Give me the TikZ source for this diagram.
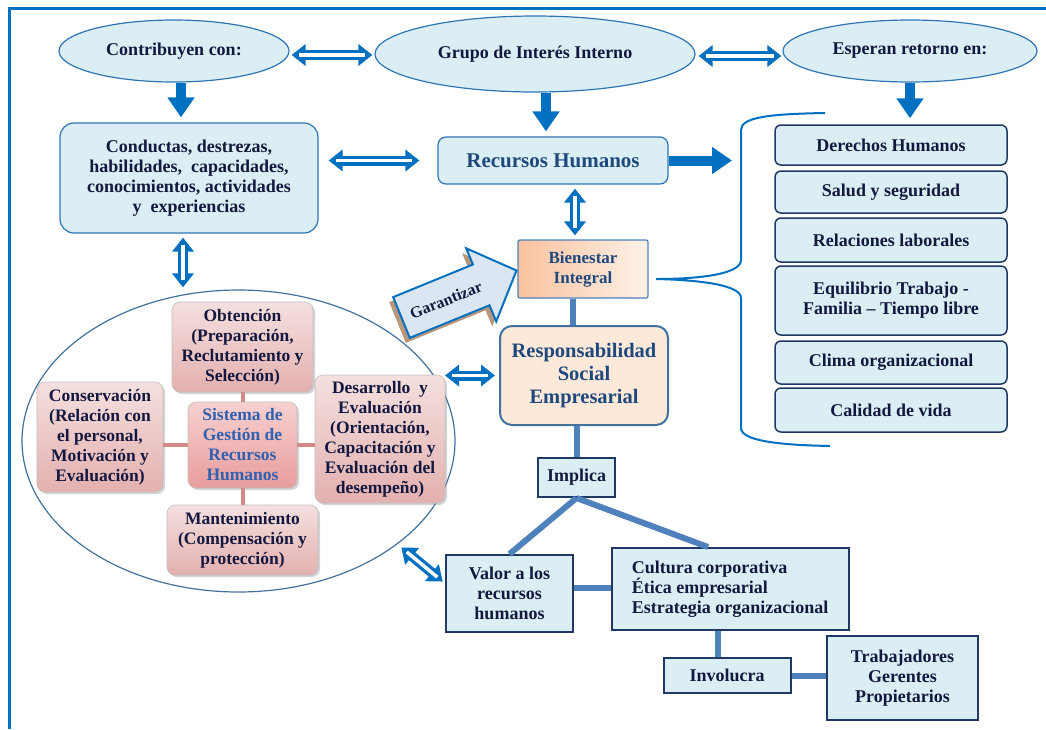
\documentclass[tikz,border=0pt]{standalone}
\usepackage{fontspec}
\setmainfont{Liberation Serif}
\usetikzlibrary{shapes.geometric,arrows.meta,shadows,calc}
\definecolor{abl}{HTML}{0070C0}
\definecolor{lblue}{HTML}{DAEEF3}
\definecolor{eborder}{HTML}{2E75B6}
\definecolor{navy}{HTML}{1F3864}
\definecolor{txt}{HTML}{15183E}
\definecolor{rhblue}{HTML}{1F497D}
\definecolor{steel}{HTML}{4F81BD}
\definecolor{pinkl}{HTML}{F4E0DF}
\definecolor{pinkd}{HTML}{E3B0AF}
\definecolor{pinkcl}{HTML}{F7D0D0}
\definecolor{pinkcd}{HTML}{E79D9C}
\definecolor{pline}{HTML}{D48987}
\definecolor{peach}{HTML}{FDE9D9}
\definecolor{peachd}{HTML}{F9C29E}
\definecolor{sisblue}{HTML}{3060B0}
\definecolor{garfill}{HTML}{DCE6F2}
\definecolor{garshadow}{HTML}{B9977A}
\definecolor{ellline}{HTML}{41719C}
\newcommand\dbl[4]{%
  \draw[abl, line width=10pt, shorten <=#3, shorten >=#4,
    {Triangle[length=14pt,width=21pt]}-{Triangle[length=14pt,width=21pt]}] #1 -- #2;
  \draw[white, line width=3.5pt, shorten <=#3+7pt, shorten >=#4+7pt] #1 -- #2;}
\tikzset{
  every node/.style={font=\bfseries\fontsize{18}{20}\selectfont, text=txt, align=center},
  ell/.style={ellipse, draw=eborder, line width=1.2pt, fill=lblue, inner sep=0pt},
  rbox/.style={rectangle, rounded corners=14pt, draw=eborder, line width=1.2pt, fill=lblue, inner sep=0pt},
  lbox/.style={rectangle, rounded corners=6pt, draw=navy, line width=1.5pt, fill=lblue, minimum width=232pt, inner sep=0pt},
  sbox/.style={rectangle, draw=navy, line width=2pt, fill=lblue, inner sep=0pt},
  pbox/.style={rectangle, rounded corners=8pt, draw=black!25, line width=0.6pt, top color=pinkl, bottom color=pinkd,
    drop shadow={shadow xshift=2pt, shadow yshift=-2pt, opacity=0.35}, inner sep=0pt,
    font=\bfseries\fontsize{17.5}{20}\selectfont},
  fat/.style={draw=abl, line width=10pt, -{Triangle[length=20pt,width=26pt]}},
  conn/.style={draw=steel, line width=6pt},
  pconn/.style={draw=pline, line width=4pt},
}
\begin{document}
\begin{tikzpicture}[x=1pt, y=-1pt]
\useasboundingbox (0,0) rectangle (1046,729);
% frame
\draw[abl, line width=3pt] (9,729) -- (9,8) -- (1046,8);
% top ellipses
\node[ell, minimum width=230pt, minimum height=62pt] (contrib) at (174,51) {Contribuyen con:};
\node[ell, minimum width=320pt, minimum height=76pt] (grupo) at (535,54) {Grupo de Interés Interno};
\node[ell, minimum width=254pt, minimum height=62pt] (esper) at (910,51) {Esperan retorno en:};
% second row
\node[rbox, minimum width=258pt, minimum height=110pt] (cond) at (189,178)
  {Conductas, destrezas,\\habilidades,\ \ capacidades,\\conocimientos, actividades\\y\ \ experiencias};
\node[rbox, rounded corners=8pt, minimum width=230pt, minimum height=47pt, text=rhblue,
  font=\bfseries\fontsize{21}{24}\selectfont] (rec) at (553,160.5) {Recursos Humanos};
% right list
\node[lbox, minimum height=40pt] (der) at (891,145) {Derechos Humanos};
\node[lbox, minimum height=42pt] (sal) at (891,192) {Salud y seguridad};
\node[lbox, minimum height=44pt] (rel) at (891,240) {Relaciones laborales};
\node[lbox, minimum height=69pt] (equ) at (891,300.5) {Equilibrio Trabajo -\\Familia -- Tiempo libre};
\node[lbox, minimum height=43pt] (cli) at (891,362.5) {Clima organizacional};
\node[lbox, minimum height=44pt] (cal) at (891,410) {Calidad de vida};
% brace
\draw[abl, line width=2pt] (825,113) .. controls (770,114) and (741,117) .. (741,130) -- (741,260)
  .. controls (741,274) and (700,279) .. (656,279) .. controls (700,280) and (741,285) .. (741,298)
  -- (741,428) .. controls (741,441) and (780,445) .. (830,446);
% Bienestar and RSE
\node[rectangle, rounded corners=2pt, draw=steel, line width=1.2pt, left color=peachd, right color=peach!60,
  minimum width=130pt, minimum height=58pt, inner sep=0pt, text=rhblue,
  font=\bfseries\fontsize{17}{20}\selectfont] (bien) at (583,269) {Bienestar\\Integral};
\node[rectangle, rounded corners=12pt, draw=ellline, line width=2pt, fill=peach,
  minimum width=168pt, minimum height=99pt, inner sep=0pt, text=rhblue,
  font=\bfseries\fontsize{20.5}{23}\selectfont] (rse) at (584,375.5) {Responsabilidad\\Social\\Empresarial};
% Garantizar block arrow
\fill[garshadow] ($(393.2,297.1)+(-4,5)$) -- ($(472.9,264.5)+(-4,5)$) -- ($(466.2,248.3)+(-4,5)$) -- ($(516.5,270.5)+(-4,5)$)
  -- ($(496.2,321.5)+(-4,5)$) -- ($(489.5,305.3)+(-4,5)$) -- ($(409.8,337.9)+(-4,5)$) -- cycle;
\draw[abl, line width=2pt, fill=garfill, line join=miter] (393.2,297.1) -- (472.9,264.5) -- (466.2,248.3) -- (516.5,270.5)
  -- (496.2,321.5) -- (489.5,305.3) -- (409.8,337.9) -- cycle;
\node[rotate=22, font=\bfseries\fontsize{16}{18}\selectfont] (gar) at (446,300) {Garantizar};
% big ellipse
\node[ellipse, draw=ellline, line width=1.2pt, minimum width=433pt, minimum height=302pt, inner sep=0pt] (bigell) at (238.5,441) {};
% pink boxes
\node[pbox, minimum width=141pt, minimum height=90pt] (obt) at (242.5,347) {Obtención\\(Preparación,\\Reclutamiento y\\Selección)};
\node[pbox, minimum width=126pt, minimum height=110pt] (cons) at (100,437) {Conservación\\(Relación con\\el personal,\\Motivación y\\Evaluación)};
\node[pbox, top color=pinkcl, bottom color=pinkcd, minimum width=109pt, minimum height=86pt, text=sisblue] (sis) at (242.5,445) {Sistema de\\Gestión de\\Recursos\\Humanos};
\node[pbox, minimum width=130pt, minimum height=128pt] (des) at (380,439) {Desarrollo\ \ y\\Evaluación\\(Orientación,\\Capacitación y\\Evaluación del\\desempeño)};
\node[pbox, minimum width=151pt, minimum height=70pt] (mant) at (242.5,540) {Mantenimiento\\(Compensación y\\protección)};
\draw[pconn] (obt.south) -- (sis.north);
\draw[pconn] (cons.east |- sis.west) -- (sis.west);
\draw[pconn] (sis.east) -- (sis.east -| des.west);
\draw[pconn] (sis.south) -- (mant.north);
% bottom boxes
\node[sbox, minimum width=77pt, minimum height=39pt] (impl) at (576.5,477.5) {Implica};
\node[sbox, minimum width=127pt, minimum height=77pt] (valor) at (509.5,593.5) {Valor a los\\recursos\\humanos};
\node[sbox, minimum width=237pt, minimum height=82pt, align=left] (cult) at (730,589) {Cultura corporativa\\Ética empresarial\\Estrategia organizacional};
\node[sbox, minimum width=127pt, minimum height=35pt] (invol) at (727,675.5) {Involucra};
\node[sbox, minimum width=151pt, minimum height=84pt] (trab) at (902.5,678) {Trabajadores\\Gerentes\\Propietarios};
% steel connectors
\draw[conn] ([xshift=-10pt]bien.south) -- ([xshift=-10pt]bien.south |- rse.north);
\draw[conn] (impl.north |- rse.south) -- (impl.north);
\draw[conn] (impl.south) -- (valor.north);
\draw[conn] (impl.south) -- ([xshift=-22pt]cult.north);
\draw[conn] ([yshift=6pt]valor.east) -- ([yshift=6pt]valor.east -| cult.west);
\draw[conn] ([xshift=-12pt]cult.south) -- ([xshift=-12pt]cult.south |- invol.north);
\draw[conn] (invol.east) -- (invol.east -| trab.west);
% fat arrows
\coordinate (brk) at (732,160.5);
\draw[fat, shorten >=5pt] ([xshift=7pt]contrib.south) -- ([xshift=7pt]contrib.south |- cond.north);
\draw[fat, shorten >=5pt] ([xshift=11pt]grupo.south) -- ([xshift=11pt]grupo.south |- rec.north);
\draw[fat, shorten >=6pt] (esper.south) -- (esper.south |- der.north);
\draw[fat] (rec.east) -- (brk);
% double arrows
\dbl{([yshift=-4pt]contrib.east)}{([yshift=-4pt]contrib.east -| grupo.west)}{2pt}{2pt}
\dbl{([yshift=-2pt]grupo.east)}{([yshift=-2pt]grupo.east -| esper.west)}{3pt}{1pt}
\dbl{(rec.west -| cond.east)}{(rec.west)}{10pt}{18pt}
\dbl{([xshift=22pt]rec.south)}{([xshift=22pt]rec.south |- bien.north)}{4pt}{4pt}
\dbl{([xshift=-6pt]cond.south)}{([xshift=-6pt]cond.south |- bigell.north)}{4pt}{2pt}
\dbl{(rse.west -| bigell.20)}{(rse.west)}{14pt}{4pt}
\dbl{(bigell.-33)}{([yshift=10pt]valor.west)}{5pt}{3pt}
\end{tikzpicture}
\end{document}
